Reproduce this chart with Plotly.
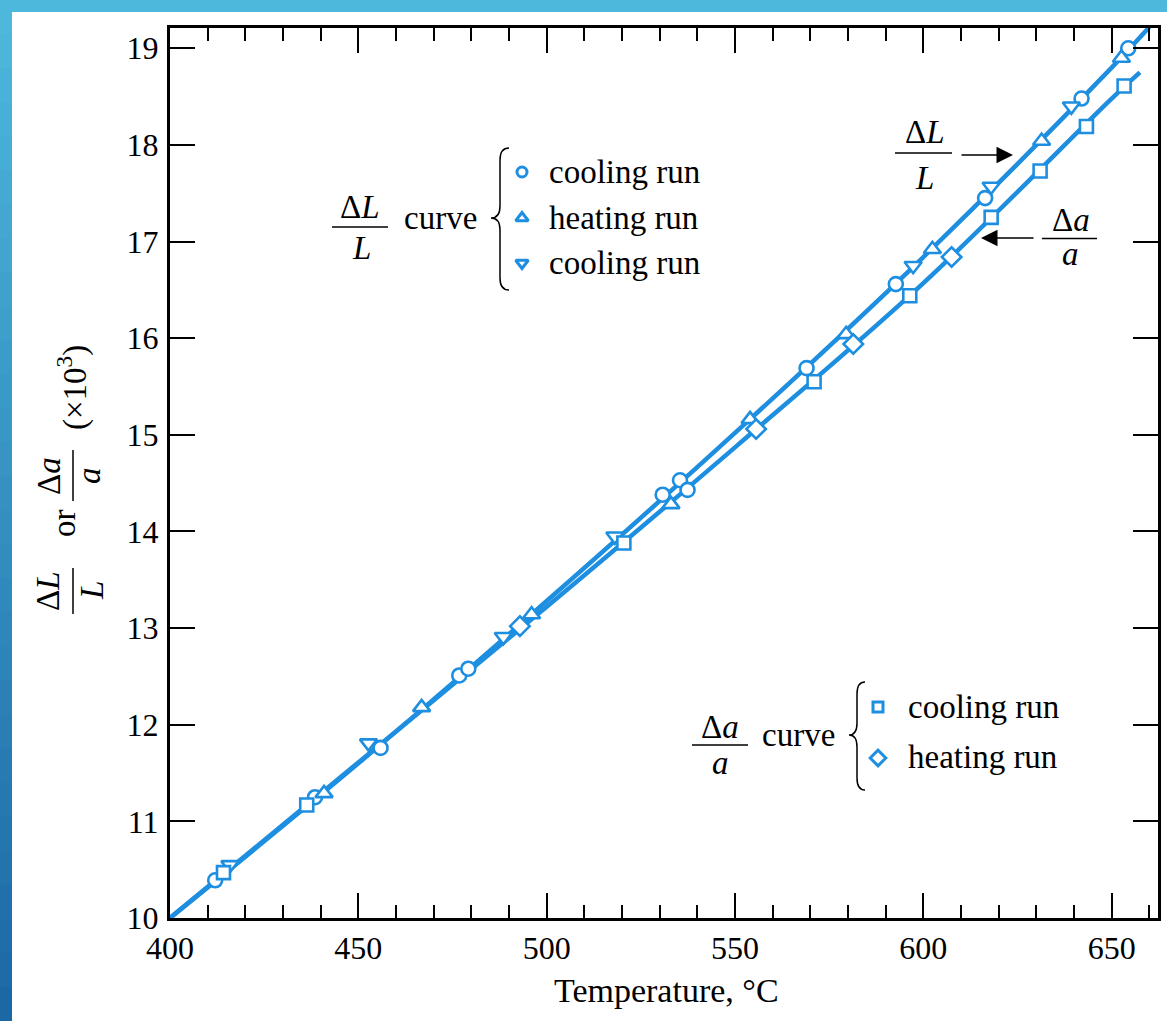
import plotly.graph_objects as go

# ---------------- data ----------------
# Delta L / L curve (smooth fit through the measurements)
curve_L_temp = [400, 450, 500, 550, 600, 650, 660]
curve_L_val = [10.0, 11.60, 13.28, 15.02, 16.84, 18.80, 19.22]

# Delta a / a curve
curve_a_temp = [400, 450, 500, 550, 600, 650, 657.5]
curve_a_val = [10.0, 11.61, 13.22, 14.87, 16.57, 18.48, 18.75]

# Delta L / L measurements
cool1_temp = [412.0, 438.5, 455.9, 476.8, 479.2, 530.8, 535.4, 537.4, 569.0, 592.7, 616.4, 642.0, 654.4]
cool1_val = [10.39, 11.25, 11.76, 12.51, 12.58, 14.38, 14.53, 14.43, 15.69, 16.56, 17.45, 18.48, 19.00]

heat_L_temp = [440.9, 466.8, 496.0, 533.0, 554.0, 579.5, 602.4, 631.4, 652.6]
heat_L_val = [11.29, 12.18, 13.14, 14.28, 15.16, 16.04, 16.92, 18.04, 18.90]

cool2_temp = [415.9, 452.7, 488.5, 518.1, 597.3, 618.0, 639.3]
cool2_val = [10.55, 11.81, 12.91, 13.95, 16.75, 17.57, 18.40]

# Delta a / a measurements
cool_a_temp = [414.2, 436.3, 520.5, 571.0, 596.4, 618.0, 631.0, 643.3, 653.3]
cool_a_val = [10.47, 11.17, 13.88, 15.55, 16.44, 17.25, 17.73, 18.19, 18.61]

heat_a_temp = [492.9, 555.6, 581.4, 607.5]
heat_a_val = [13.02, 15.06, 15.94, 16.84]

x_ticks = [400, 450, 500, 550, 600, 650]
y_ticks = [10, 11, 12, 13, 14, 15, 16, 17, 18, 19]

# ---------------- styling ----------------
W, H = 1167, 1021
L_M, R_M, T_M, B_M = 170, 9, 28, 103
PW = W - L_M - R_M
PH = H - T_M - B_M
BLUE = "#1e8fe0"
FONT = "Liberation Serif, 'DejaVu Serif', 'Times New Roman', serif"


def px(x):
    return (x - L_M) / PW


def py(y):
    return (H - B_M - y) / PH


fig = go.Figure()

for t, v in [(curve_L_temp, curve_L_val), (curve_a_temp, curve_a_val)]:
    fig.add_trace(go.Scatter(x=t, y=v, mode="lines", line=dict(color=BLUE, width=4.5, shape="spline"),
                             hoverinfo="skip", showlegend=False))

series = [
    (cool1_temp, cool1_val, "circle", 14),
    (heat_L_temp, heat_L_val, "triangle-up", 15),
    (cool2_temp, cool2_val, "triangle-down", 15),
    (cool_a_temp, cool_a_val, "square", 13),
    (heat_a_temp, heat_a_val, "diamond", 15),
]
for t, v, sym, sz in series:
    fig.add_trace(go.Scatter(x=t, y=v, mode="markers",
                             marker=dict(symbol=sym, size=sz, color="white", line=dict(color=BLUE, width=2.6)),
                             showlegend=False))

# key markers, placed on an overlay axis spanning the plot area
key_marks = [
    (522, 172, "circle", 10), (522, 218, "triangle-up", 11), (522, 263, "triangle-down", 11),
    (878, 707, "square", 10), (878, 758, "diamond", 12),
]
for kx, ky, sym, sz in key_marks:
    fig.add_trace(go.Scatter(x=[px(kx)], y=[py(ky)], xaxis="x2", yaxis="y2", mode="markers",
                             marker=dict(symbol=sym, size=sz, color="white", line=dict(color=BLUE, width=3)),
                             showlegend=False, hoverinfo="skip"))

ann = []
shapes = []


def text(x, y, s, size=33, angle=0, xanchor="center"):
    ann.append(dict(x=px(x), y=py(y), xref="paper", yref="paper", text=s, showarrow=False,
                    textangle=angle, xanchor=xanchor, yanchor="middle",
                    font=dict(family=FONT, size=size, color="black")))


def hline(x0, x1, y, w=1.5):
    shapes.append(dict(type="line", xref="paper", yref="paper", x0=px(x0), x1=px(x1), y0=py(y), y1=py(y),
                       line=dict(color="black", width=w)))


def vline(x, y0, y1, w=1.5):
    shapes.append(dict(type="line", xref="paper", yref="paper", x0=px(x), x1=px(x), y0=py(y0), y1=py(y1),
                       line=dict(color="black", width=w)))


def brace(xv, yt, ym, yb, tip, hook):
    r = 12
    pts = (f"M {px(hook)},{py(yt)} Q {px(xv)},{py(yt)} {px(xv)},{py(yt + r)} "
           f"L {px(xv)},{py(ym - r)} Q {px(xv)},{py(ym)} {px(tip)},{py(ym)} "
           f"Q {px(xv)},{py(ym)} {px(xv)},{py(ym + r)} "
           f"L {px(xv)},{py(yb - r)} Q {px(xv)},{py(yb)} {px(hook)},{py(yb)}")
    shapes.append(dict(type="path", xref="paper", yref="paper", path=pts,
                       line=dict(color="black", width=1.5)))


# key for the Delta L / L curve
text(360, 207, "Δ<i>L</i>")
hline(332, 388, 227)
text(361, 248, "<i>L</i>")
text(402, 218, "curve", xanchor="left")
brace(500, 148, 218, 290, 491, 509)
text(547, 172, "cooling run", xanchor="left")
text(547, 218, "heating run", xanchor="left")
text(547, 263, "cooling run", xanchor="left")

# key for the Delta a / a curve
text(720, 727, "Δ<i>a</i>")
hline(692, 748, 745)
text(720, 763, "<i>a</i>")
text(760, 735, "curve", xanchor="left")
brace(857, 682, 735, 790, 849, 865)
text(906, 707, "cooling run", xanchor="left")
text(906, 757, "heating run", xanchor="left")

# curve labels with arrows
text(925, 132, "Δ<i>L</i>")
hline(895, 952, 153)
text(924, 178, "<i>L</i>")
ann.append(dict(x=px(1013), y=py(155), xref="paper", yref="paper", ax=-53, ay=0, text="",
                showarrow=True, arrowhead=2, arrowsize=2.2, arrowwidth=1.5, arrowcolor="black"))
text(1071, 220, "Δ<i>a</i>")
hline(1042, 1097, 238.5)
text(1070, 254, "<i>a</i>")
ann.append(dict(x=px(981), y=py(238), xref="paper", yref="paper", ax=54, ay=0, text="",
                showarrow=True, arrowhead=2, arrowsize=2.2, arrowwidth=1.5, arrowcolor="black"))

# y-axis title built from rotated pieces
text(48, 591, "Δ<i>L</i>", angle=-90)
vline(73, 568, 614)
text(92, 591, "<i>L</i>", angle=-90)
text(64, 523, "or", angle=-90)
text(49, 476, "Δ<i>a</i>", angle=-90)
vline(73, 450, 501)
text(89, 476, "<i>a</i>", angle=-90)
text(72, 388, "(×10<sup>3</sup>)", angle=-90)

# x-axis title
text(666, 990, "Temperature, °C", size=34)

# page edge bands
shapes.append(dict(type="rect", xref="paper", yref="paper", x0=px(0), x1=px(W), y0=py(0), y1=py(12),
                   fillcolor="#4db8dc", line=dict(width=0), layer="below"))
steps = 30
c0 = (77, 184, 220)
c1 = (28, 104, 165)
for i in range(steps):
    f = i / (steps - 1)
    c = tuple(round(a + (b - a) * f) for a, b in zip(c0, c1))
    shapes.append(dict(type="rect", xref="paper", yref="paper", x0=px(0), x1=px(12),
                       y0=py(H * i / steps), y1=py(H * (i + 1) / steps + 1),
                       fillcolor=f"rgb{c}", line=dict(width=0), layer="below"))

axis_common = dict(showgrid=False, zeroline=False, showline=True, linecolor="black", linewidth=3,
                   mirror="allticks", ticks="inside", ticklen=25, tickwidth=2, tickcolor="black",
                   tickfont=dict(family=FONT, size=32, color="black"))

fig.update_layout(
    width=W, height=H,
    margin=dict(l=L_M, r=R_M, t=T_M, b=B_M, autoexpand=False),
    paper_bgcolor="white", plot_bgcolor="white",
    showlegend=False,
    font=dict(family=FONT),
    xaxis=dict(range=[400, 662.3], tickvals=x_ticks, ticklabelstandoff=0,
               minor=dict(dtick=10, tick0=400, ticks="inside", ticklen=13, tickwidth=2, tickcolor="black"),
               **axis_common),
    yaxis=dict(range=[10, 19.21], tickvals=y_ticks, ticklabelstandoff=2, **axis_common),
    xaxis2=dict(overlaying="x", range=[0, 1], visible=False),
    yaxis2=dict(overlaying="y", range=[0, 1], visible=False),
    annotations=ann,
    shapes=shapes,
)

fig.write_html("out.html")
